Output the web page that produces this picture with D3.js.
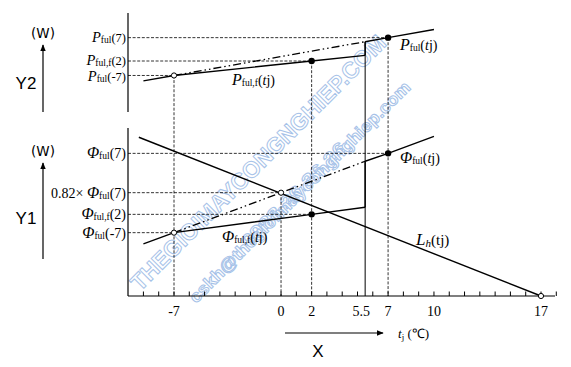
<!DOCTYPE html>
<html><head><meta charset="utf-8">
<script src="https://cdn.jsdelivr.net/npm/d3@7"></script>
<style>body{margin:0;background:#fff}svg{display:block}</style>
</head><body>
<script>
// ---- data (arbitrary W units, schematic) ----
const xTicksLabeled = [-7, 0, 2, 5.5, 7, 10, 17];
const minorTicks = d3.range(-9, 19);
// upper panel (P)
const pFul = [[-9, 31.4], [-7, 36.9], [5.5, 71.0], [7, 75.1], [10, 83.3]];
const pFulF = [[-7, 36.9], [2, 51.5], [5.5, 57.2]];
const pLevels = [["P","ful","(7)",75.1,7],["P","ful,f","(2)",51.5,2],["P","ful","(-7)",36.9,-7]];
// lower panel (Φ)
const phiFul = [[-9, 31.0], [-7, 37.7], [0, 61.5], [5.5, 80.2], [7, 84.9], [10, 95.0]];
const phiFulF = [[-7, 37.7], [2, 48.6], [5.5, 52.8]];
const loadLine = [[-9.3, 94.5], [17, 0]];
const phiLevels = [["Φ","ful","(7)",84.9,7,""],["Φ","ful","(7)",61.5,0,"0.82× "],["Φ","ful,f","(2)",48.6,2,""],["Φ","ful","(-7)",37.7,-7,""]];
const watermarks = ["THEGIOIMAYCONGNGHIEP.COM", "0988.26.36.26", "cskh@thegioimaycongnghiep.com"];

const W = 571, H = 367;
const svg = d3.select("body").append("svg").attr("width", W).attr("height", H);
const x = d3.scaleLinear().domain([-7, 17]).range([174, 541]);
const y2 = d3.scaleLinear().domain([0, 100]).range([112, 13]);
const y1 = d3.scaleLinear().domain([0, 100]).range([296, 128]);
const ax = 128, baseY = 296;

// watermark
const wm = svg.append("g").attr("font-family","Arial, Liberation Sans, sans-serif").attr("font-weight","bold")
  .attr("fill","#fff").attr("stroke","#a6c2e8").attr("stroke-width",1);
[[140,292,23,350],[248,248,17,140],[196,304,17,305]].forEach((p,i)=>{
  wm.append("text").attr("transform",`translate(${p[0]},${p[1]}) rotate(-45)`).attr("font-size",p[2])
    .attr("textLength",p[3]).attr("lengthAdjust","spacingAndGlyphs").text(watermarks[i]);
});

const g = svg.append("g");
g.append("line").attr("x1",ax).attr("x2",ax).attr("y1",13).attr("y2",112).attr("stroke","#000").attr("stroke-width",1.2);
g.append("line").attr("x1",ax).attr("x2",ax).attr("y1",128).attr("y2",baseY).attr("stroke","#000").attr("stroke-width",1.2);
g.append("line").attr("x1",ax).attr("x2",555).attr("y1",baseY).attr("y2",baseY).attr("stroke","#000").attr("stroke-width",1.2);
g.selectAll(".mt").data(minorTicks).join("line").attr("x1",d=>x(d)).attr("x2",d=>x(d))
  .attr("y1",baseY).attr("y2",baseY-4.5).attr("stroke","#000").attr("stroke-width",1);
g.selectAll(".tl").data(xTicksLabeled).join("text").attr("x",d=>x(d)+(d===5.5?-4:0)).attr("y",316)
  .attr("text-anchor","middle").attr("font-family","Liberation Serif, serif").attr("font-size",14)
  .text(d=>d);

const dash = "3,1.6";
pLevels.forEach(d=>{
  g.append("line").attr("x1",ax).attr("x2",x(d[4])).attr("y1",y2(d[3])).attr("y2",y2(d[3]))
   .attr("stroke","#000").attr("stroke-width",0.8).attr("stroke-dasharray",dash);
});
phiLevels.forEach(d=>{
  g.append("line").attr("x1",ax).attr("x2",x(d[4])).attr("y1",y1(d[3])).attr("y2",y1(d[3]))
   .attr("stroke","#000").attr("stroke-width",0.8).attr("stroke-dasharray",dash);
});
const vg = [[-7, y2(36.9)],[0, y1(61.5)],[2, y2(51.5)],[7, y2(75.1)]];
vg.forEach(d=>{
  g.append("line").attr("x1",x(d[0])).attr("x2",x(d[0])).attr("y1",d[1]).attr("y2",baseY)
   .attr("stroke","#000").attr("stroke-width",0.8).attr("stroke-dasharray",dash);
});
g.append("line").attr("x1",x(5.5)).attr("x2",x(5.5)).attr("y1",y2(71.0)).attr("y2",baseY).attr("stroke","#000").attr("stroke-width",1);

const line2 = d3.line().x(d=>x(d[0])).y(d=>y2(d[1]));
const line1 = d3.line().x(d=>x(d[0])).y(d=>y1(d[1]));
const solid = (path)=>g.append("path").attr("d",path).attr("fill","none").attr("stroke","#000").attr("stroke-width",1.4);
const ddot = (path)=>g.append("path").attr("d",path).attr("fill","none").attr("stroke","#000").attr("stroke-width",1.3).attr("stroke-dasharray","8,3,1.5,3,1.5,3");

solid(line2(pFul.slice(0,2)));
ddot(line2([pFul[1], pFul[2]]));
solid(line2(pFul.slice(2)));
solid(line2(pFulF));
solid(line2([pFulF[2], pFul[2]]));
solid(line1(phiFul.slice(0,2)));
ddot(line1([phiFul[1], phiFul[3]]));
solid(line1(phiFul.slice(3)));
solid(line1(phiFulF));
solid(line1([phiFulF[2], phiFul[3]]));
solid(line1(loadLine));

const filled = [[x(2),y2(51.5)],[x(7),y2(75.1)],[x(2),y1(48.6)],[x(7),y1(84.9)]];
const open = [[x(-7),y2(36.9)],[x(-7),y1(37.7)],[x(0),y1(61.5)],[x(17),y1(0)]];
g.selectAll(".fp").data(filled).join("circle").attr("cx",d=>d[0]).attr("cy",d=>d[1]).attr("r",3.2).attr("fill","#000");
g.selectAll(".op").data(open).join("circle").attr("cx",d=>d[0]).attr("cy",d=>d[1]).attr("r",2.6).attr("fill","#fff").attr("stroke","#000").attr("stroke-width",1);

function sym(xp, yp, main, sub, tail, anchor, pre, big){
  const t = svg.append("text").attr("x",xp).attr("y",yp).attr("text-anchor",anchor||"start")
    .attr("font-family","Liberation Serif, serif").attr("font-size",big||14);
  if(pre) t.append("tspan").attr("font-size",14).text(pre);
  t.append("tspan").attr("font-style","italic").attr("font-size",(big||14)+2).text(main);
  t.append("tspan").attr("font-size",9.5).attr("dy",1).text(sub);
  t.append("tspan").attr("dy",-1).text(tail);
  return t;
}
const pNudge = [0, -0.5, 1];
pLevels.forEach((d,i)=>sym(126, y2(d[3])+4.5+pNudge[i], d[0], d[1], d[2], "end", "", 12.5));
phiLevels.forEach(d=>sym(126, y1(d[3])+5, d[0], d[1], d[2], "end", d[5]));
function curveLabel(xp, yp, main, sub){
  const t = sym(xp, yp, main, sub, "(", "start");
  t.append("tspan").attr("font-style","italic").text("t");
  t.append("tspan").text("j)");
}
curveLabel(400, 50, "P", "ful");
curveLabel(232, 85, "P", "ful,f");
curveLabel(400, 163, "Φ", "ful");
curveLabel(222, 242, "Φ", "ful,f");
const lh = svg.append("text").attr("x",416).attr("y",245).attr("font-family","Liberation Serif, serif").attr("font-size",15);
lh.append("tspan").attr("font-style","italic").attr("font-size",17).text("L");
lh.append("tspan").attr("font-style","italic").attr("font-size",11).attr("dy",2).text("h");
lh.append("tspan").attr("dy",-2).text("(tj)");

const defs = svg.append("defs");
defs.append("marker").attr("id","ah").attr("viewBox","0 0 10 10").attr("refX",9).attr("refY",5)
  .attr("markerWidth",6).attr("markerHeight",6).attr("orient","auto")
  .append("path").attr("d","M0,1 L10,5 L0,9 Z").attr("fill","#000");
[[38, 45, 112, "Y2", 89],[156, 163, 259, "Y1", 224]].forEach(d=>{
  svg.append("text").attr("x",43).attr("y",d[0]).attr("text-anchor","middle").attr("font-family","DejaVu Sans, sans-serif").attr("font-size",13.5).text("(W)");
  svg.append("line").attr("x1",43).attr("x2",43).attr("y1",d[2]).attr("y2",d[1]).attr("stroke","#000").attr("stroke-width",1.2).attr("marker-end","url(#ah)");
  svg.append("text").attr("x",26).attr("y",d[4]).attr("text-anchor","middle").attr("font-family","Liberation Sans, Arial, sans-serif").attr("font-size",17).text(d[3]);
});
svg.append("line").attr("x1",285).attr("x2",383).attr("y1",333).attr("y2",333).attr("stroke","#000").attr("stroke-width",1.2).attr("marker-end","url(#ah)");
svg.append("text").attr("x",318).attr("y",357).attr("text-anchor","middle").attr("font-family","Liberation Sans, Arial, sans-serif").attr("font-size",17).text("X");
const tx = svg.append("text").attr("x",398).attr("y",338).attr("font-family","Liberation Serif, serif").attr("font-size",13);
tx.append("tspan").attr("font-style","italic").text("t");
tx.append("tspan").attr("font-size",9).attr("dy",2).text("j");
tx.append("tspan").attr("dy",-2).text(" (℃)");
</script>
</body></html>
